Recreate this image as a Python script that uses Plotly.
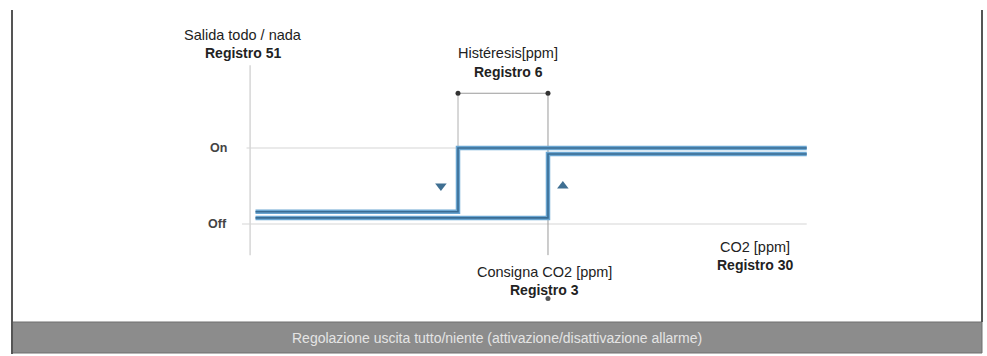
import plotly.graph_objects as go

W, H = 987, 356

# --- data (CO2 in ppm, output state: 0 = Off, 1 = On) ---
setpoint_ppm = 1000
hysteresis_ppm = 200
falling_x = [350, 800, 800, 1575]        # path when CO2 decreases
falling_y = [0.16, 0.16, 1.0, 1.0]
rising_x = [350, 1000, 1000, 1575]       # path when CO2 increases
rising_y = [0.08, 0.08, 0.92, 0.92]
arrow_x = [762, 1033]
arrow_y = [0.5, 0.5]
arrow_symbols = ["triangle-down", "triangle-up"]
state_ticks = [0, 1]
state_labels = ["Off", "On"]

x_range = [-217.8, 1975.6]
y_range = [-1.737, 2.947]

def px(x):
    return x / W

def py(y):
    return 1 - y / H

fig = go.Figure()

line_dark = "#3a6c93"
line_light = "#6aa6d2"
for xs, ys in [(falling_x, falling_y), (rising_x, rising_y)]:
    fig.add_trace(go.Scatter(x=xs, y=ys, mode="lines",
                             line=dict(color=line_light, width=4.5),
                             hoverinfo="skip", showlegend=False))
    fig.add_trace(go.Scatter(x=xs, y=ys, mode="lines",
                             line=dict(color=line_dark, width=1.6),
                             hoverinfo="skip", showlegend=False))

for ax_, ay_, sym in zip(arrow_x, arrow_y, arrow_symbols):
    fig.add_trace(go.Scatter(x=[ax_], y=[ay_], mode="markers",
                             marker=dict(symbol=sym, size=10, color="#3f6f92"),
                             hoverinfo="skip", showlegend=False))

# hysteresis dimension dots
fig.add_trace(go.Scatter(x=[setpoint_ppm - hysteresis_ppm, setpoint_ppm], y=[1.72, 1.72],
                         mode="lines+markers",
                         line=dict(color="#9a9a9a", width=1),
                         marker=dict(size=5, color="#333333"),
                         hoverinfo="skip", showlegend=False))
# small dot below setpoint label
fig.add_trace(go.Scatter(x=[setpoint_ppm], y=[-0.98], mode="markers",
                         marker=dict(size=5, color="#555555"),
                         hoverinfo="skip", showlegend=False))

shapes = []
grid = "#d6d6d6"
# y axis line
shapes.append(dict(type="line", xref="x", yref="y", x0=338, x1=338, y0=-0.41, y1=2.09,
                   line=dict(color=grid, width=1.5), layer="below"))
# On / Off gridlines
shapes.append(dict(type="line", xref="x", yref="y", x0=330, x1=1560, y0=1, y1=1,
                   line=dict(color=grid, width=1.2), layer="below"))
shapes.append(dict(type="line", xref="x", yref="y", x0=320, x1=1575, y0=0, y1=0,
                   line=dict(color=grid, width=1.2), layer="below"))
# hysteresis verticals
shapes.append(dict(type="line", xref="x", yref="y", x0=setpoint_ppm - hysteresis_ppm,
                   x1=setpoint_ppm - hysteresis_ppm, y0=1, y1=1.72,
                   line=dict(color="#b0b0b0", width=1), layer="below"))
shapes.append(dict(type="line", xref="x", yref="y", x0=setpoint_ppm, x1=setpoint_ppm,
                   y0=-0.41, y1=1.72, line=dict(color="#9a9a9a", width=1), layer="below"))
# frame
shapes.append(dict(type="rect", xref="paper", yref="paper", x0=px(12), x1=px(982),
                   y0=py(353), y1=py(322), fillcolor="#8c8c8c",
                   line=dict(color="#6e6e6e", width=1)))
shapes.append(dict(type="line", xref="paper", yref="paper", x0=px(12), x1=px(12),
                   y0=py(354), y1=py(10), line=dict(color="#555555", width=2)))
shapes.append(dict(type="line", xref="paper", yref="paper", x0=px(982), x1=px(982),
                   y0=py(322), y1=py(10), line=dict(color="#555555", width=2)))

ann = []
FONT = "Liberation Sans, Arial, sans-serif"

def label(x, y, text, size=14.5, color="#222222", xanchor="center"):
    ann.append(dict(xref="paper", yref="paper", x=px(x), y=py(y), text=text,
                    showarrow=False, xanchor=xanchor, yanchor="middle",
                    font=dict(family=FONT, size=size, color=color)))

label(243, 35, "Salida todo / nada")
label(243, 53, "<b>Registro 51</b>", size=14)
label(508, 53, "Histéresis[ppm]")
label(508, 72, "<b>Registro 6</b>", size=14)
label(544, 272, "Consigna CO2 [ppm]")
label(544, 290, "<b>Registro 3</b>", size=14)
label(755, 247, "CO2 [ppm]")
label(755, 265, "<b>Registro 30</b>", size=14)
for v, t in zip(state_ticks, state_labels):
    ann.append(dict(xref="paper", yref="y", x=px(229), y=v, text="<b>" + t + "</b>",
                    showarrow=False, xanchor="right", yanchor="middle",
                    font=dict(family=FONT, size=12.5, color="#444444")))
label(497, 338, "Regolazione uscita tutto/niente (attivazione/disattivazione allarme)",
      size=14, color="#e4e4e4")

fig.update_layout(
    width=W, height=H,
    margin=dict(l=0, r=0, t=0, b=0),
    paper_bgcolor="white", plot_bgcolor="white",
    xaxis=dict(range=x_range, visible=False, fixedrange=True),
    yaxis=dict(range=y_range, visible=False, fixedrange=True),
    shapes=shapes, annotations=ann, showlegend=False,
)

fig.write_html("out.html", config={"displayModeBar": False},
               post_script="document.body.style.margin='0px';document.body.style.overflow='hidden';")
